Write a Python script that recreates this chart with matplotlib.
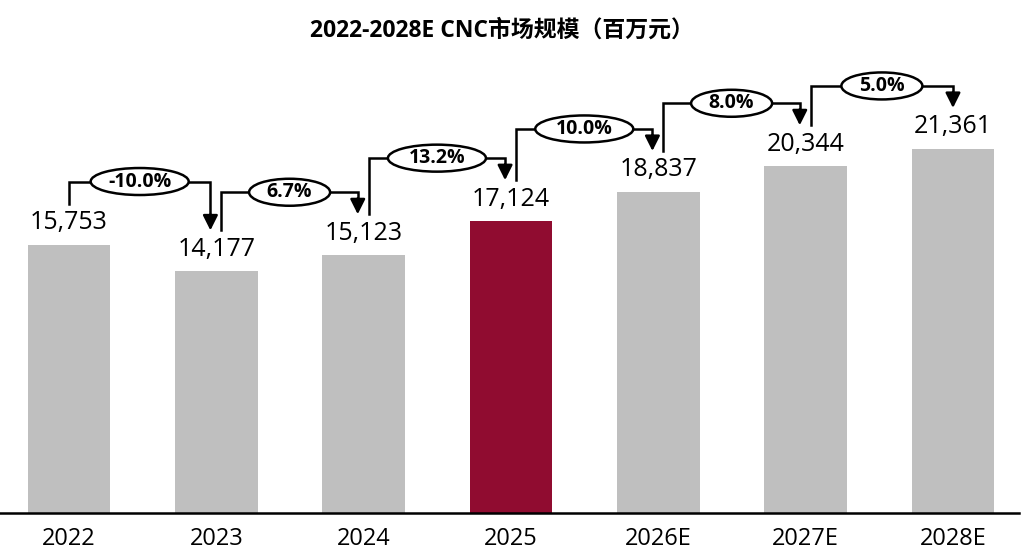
import numpy as np
import matplotlib
matplotlib.use("Agg")
import matplotlib.pyplot as plt
from matplotlib.patches import Ellipse

plt.rcParams['font.family'] = ['Open Sans', 'Noto Sans CJK SC', 'DejaVu Sans']

years = ["2022", "2023", "2024", "2025", "2026E", "2027E", "2028E"]
values = [15753, 14177, 15123, 17124, 18837, 20344, 21361]
growth = ["-10.0%", "6.7%", "13.2%", "10.0%", "8.0%", "5.0%"]
highlight = "2025"

GRAY = "#BFBFBF"
RED = "#900C30"

fig = plt.figure(figsize=(10.24, 5.55), dpi=100)
ax = fig.add_axes([0, 42 / 555, 1, 513 / 555])

x = np.arange(len(years))
colors = [RED if y == highlight else GRAY for y in years]
ax.bar(x, values, width=0.56, color=colors, zorder=2)

ax.set_xlim(-0.468, 6.482)
ax.set_ylim(0, 30100)
ax.set_yticks([])
ax.set_xticks(x)
ax.set_xticklabels(years, fontsize=17)
ax.tick_params(axis='x', length=0, pad=10)
for s in ["top", "right", "left"]:
    ax.spines[s].set_visible(False)
ax.spines["bottom"].set_linewidth(1.8)
ax.spines["bottom"].set_bounds(-0.468, 6.45)

# value labels
for xi, v in zip(x, values):
    ax.text(xi, v + 560, f"{v:,}", ha="center", va="bottom", fontsize=18)

# growth brackets
px_y = 30100 / 513      # data units per pixel (y)
px_x = 1 / 147.3        # data units per pixel (x)
gap = 41 * px_y
rise = 22 * px_y
for i, g in enumerate(growth):
    x0 = x[i] + (0 if i == 0 else 0.035)
    x1 = x[i + 1] - (0 if i == len(growth) - 1 else 0.04)
    y0 = values[i] + gap
    y1 = values[i + 1] + gap
    yh = max(y0, y1) + rise
    ax.plot([x0, x0, x1, x1], [y0, yh, yh, y1 + 14 * px_y],
            color="black", lw=1.8, zorder=3, solid_joinstyle="miter")
    ax.annotate("", xy=(x1, y1), xytext=(x1, y1 + 16 * px_y),
                arrowprops=dict(arrowstyle="-|>,head_width=0.45,head_length=0.9",
                                color="black", lw=1.8, shrinkA=0, shrinkB=0),
                zorder=3)
    xm = (x0 + x1) / 2
    w = (98 if len(g) >= 5 else 81) * px_x
    ax.add_patch(Ellipse((xm, yh), w, 27 * px_y, facecolor="white",
                         edgecolor="black", lw=1.8, zorder=4))
    ax.text(xm, yh, g, ha="center", va="center", fontsize=14,
            fontweight="bold", zorder=5)

fig.text(0.49, 1 - 31 / 555, "2022-2028E CNC市场规模（百万元）", ha="center",
         va="center", fontsize=16.5, fontweight="bold")

fig.savefig("out.png", dpi=100)
